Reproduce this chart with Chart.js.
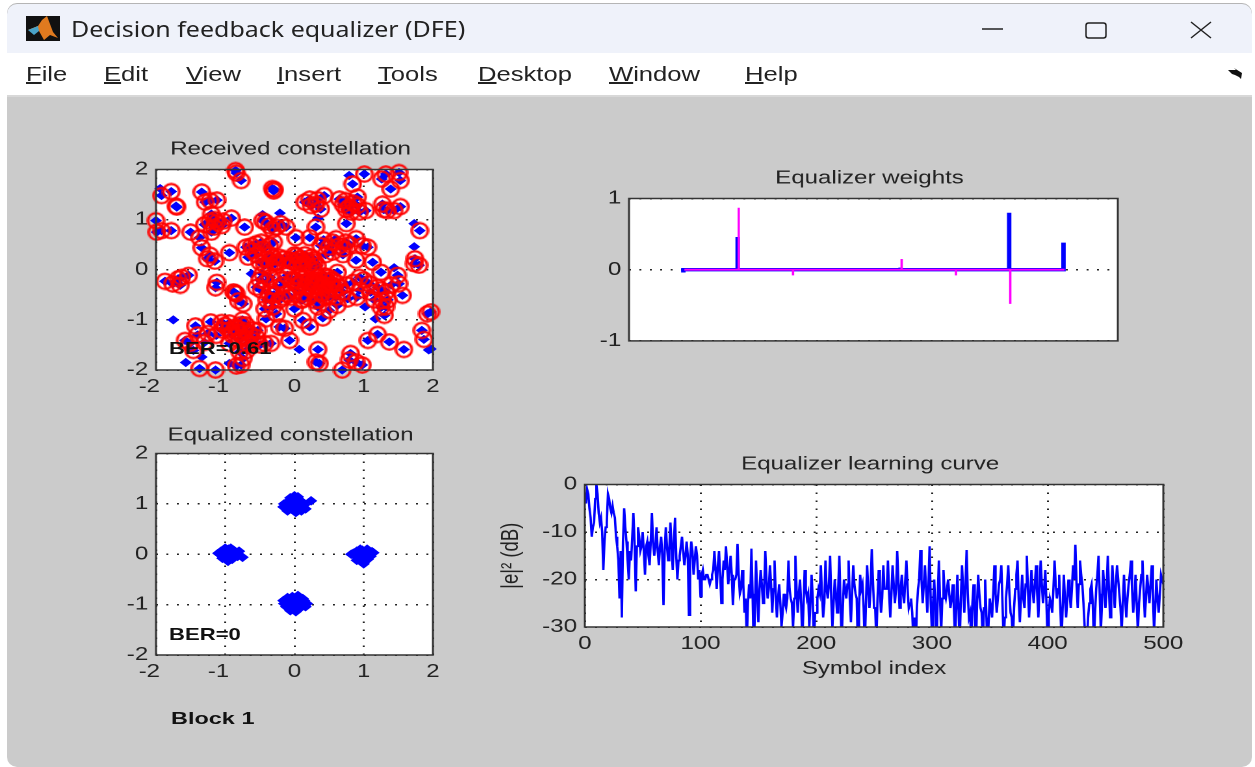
<!DOCTYPE html>
<html lang="en">
<head>
<meta charset="UTF-8">
<title>Decision feedback equalizer (DFE)</title>
<script src="https://cdn.jsdelivr.net/npm/chart.js"></script>
<style>
    html, body { margin: 0; padding: 0; width: 1255px; height: 767px; overflow: hidden; background: #fff; }
    #win { position: absolute; left: 0; top: 0; width: 1255px; height: 767px; filter: blur(0.55px); font-family: 'Liberation Sans', Arial, sans-serif; }
    #titlebar { position: absolute; left: 7px; top: 4px; width: 1245px; height: 49px; background: #eff2fa; border-radius: 10px 10px 0 0; box-shadow: 0 -1px 0 #b5b5b5; }
    #menubar { position: absolute; left: 7px; top: 53px; width: 1245px; height: 42px; background: #fff; border-bottom: 2px solid #d8d8d8; }
    #figure { position: absolute; left: 7px; top: 97px; width: 1245px; height: 670px; background: #cbcbcb; border-radius: 0 0 10px 10px; }
    #wintitle { position: absolute; left: 71px; top: 17px; font: 21px 'Noto Sans', sans-serif; color: #222; transform-origin: 0 0; transform: scaleX(1.19); white-space: nowrap; line-height: 24px; }
    .menu { position: absolute; top: 62px; font-size: 20px; line-height: 24px; color: #222; transform-origin: 0 0; transform: scaleX(1.28); white-space: nowrap; }
    .note { position: absolute; font-weight: bold; font-size: 17px; line-height: 20px; color: #111; transform-origin: 0 0; transform: scaleX(1.3); white-space: nowrap; z-index: 5; }
    canvas { position: absolute; transform-origin: 0 0; }
    svg { position: absolute; }
</style>
</head>
<body>
<div id="win">
    <div id="titlebar"></div>
    <div id="menubar"></div>
    <div id="figure"></div>
    <svg style="left:26px;top:16px" width="34" height="25" viewBox="0 0 34 25">
        <rect width="34" height="25" fill="#111"/>
        <path d="M2 14 L12 10 L16 4 L21 0 L27 16 L32 22 L24 19 L18 24 L13 15 Z" fill="#e07a1f"/>
        <path d="M2 14 L12 10 L13 15 L8 19 Z" fill="#4aa3c8"/>
    </svg>
    <div id="wintitle">Decision feedback equalizer (DFE)</div>
    <svg style="left:975px;top:14px" width="240" height="30" viewBox="0 0 240 30" fill="none" stroke="#222" stroke-width="1.5">
        <line x1="7" y1="15" x2="28" y2="15"/>
        <rect x="111" y="9" width="20" height="15" rx="2.5"/>
        <path d="M216 8 L236 24 M236 8 L216 24"/>
    </svg>
    <svg style="left:1227px;top:68px" width="16" height="12" viewBox="0 0 16 12"><path d="M1 2 L9 2 L7 0 L15 5 L14 11 L12 9 L8 7 L5 6 Z" fill="#111"/></svg>
    <div class="menu" style="left:26px"><u>F</u>ile</div>
    <div class="menu" style="left:104px"><u>E</u>dit</div>
    <div class="menu" style="left:186px"><u>V</u>iew</div>
    <div class="menu" style="left:277px"><u>I</u>nsert</div>
    <div class="menu" style="left:378px"><u>T</u>ools</div>
    <div class="menu" style="left:478px"><u>D</u>esktop</div>
    <div class="menu" style="left:609px"><u>W</u>indow</div>
    <div class="menu" style="left:745px"><u>H</u>elp</div>

    <canvas id="received"></canvas>
    <canvas id="equalized"></canvas>
    <canvas id="weights"></canvas>
    <canvas id="learning"></canvas>

    <div class="note" style="left:169px;top:339px">BER=0.61</div>
    <div class="note" style="left:169px;top:625px">BER=0</div>
    <div class="note" style="left:171px;top:709px;transform:scaleX(1.38)">Block 1</div>
</div>

<script>
    // Received constellation, symbols in error (circled)
    const errI = [-0.85,-0.84,-0.77,-0.32,-0.29,-0.3,-1.92,-1.78,-1.71,-1.7,-1.34,-1.29,-1.22,-1.12,-1.2,-2.0,-1.99,-1.92,-1.78,-1.5,-1.37,-1.2,-1.22,-1.12,-1.03,-0.91,-1.16,-0.72,-1.34,-1.22,-1.26,-1.15,-0.94,
        -0.46,-0.42,-0.26,-0.12,-0.36,-0.55,-0.7,-0.48,-0.36,-0.67,-0.6,-0.41,-0.31,-0.22,-0.43,-0.28,-0.46,
        0.02,0.22,-0.02,0.07,0.17,0.24,0.12,0.29,0.03,0.1,0.27,-0.07,-0.26,-0.36,
        0.22,0.24,0.38,0.43,0.31,0.65,0.74,0.79,0.91,0.91,0.94,1.03,0.84,1.01,1.26,1.32,1.51,1.53,1.39,1.27,1.53,1.34,1.44,1.29,0.75,0.31,1.81,
        0.6,0.38,0.5,0.65,0.74,0.89,0.98,1.06,0.89,1.13,1.74,1.73,1.8,
        0.62,0.94,1.25,1.49,1.51,1.56,0.94,1.08,1.2,1.32,1.27,1.32,1.3,0.77,
        -0.1,0.07,0.22,0.34,0.46,0.55,0.31,0.17,0.02,-0.12,-0.26,-0.41,-0.48,-0.36,-0.22,0.12,0.38,0.5,0.62,0.34,0.5,0,-0.43,-0.31,-0.26,-0.41,-0.14,-0.22,-0.07,0.12,0.22,0.41,
        0.41,0.28,0.44,0.2,-0.03,-0.17,-0.33,0.58,0.3,0.12,
        -1.43,-1.21,-1.01,-0.94,-0.85,-0.77,-0.72,-0.65,-1.13,-1.25,-0.74,-0.6,-0.67,-0.53,-0.43,-0.34,-1.58,-1.51,-1.46,-0.94,-0.79,-0.69,-1.37,-1.14,-0.84,-0.77,-0.74,-0.9,-0.82,
        0.34,0.31,0.36,0.69,0.81,0.79,0.89,0.98,1.06,1.2,1.37,1.58,1.84,1.87,1.92,1.97,
        -1.87,-1.76,-1.68,-1.63,-1.53,-1.65,-1.12,-1.14,-0.86,-0.84,-0.88,-0.74,-0.81,
        0,0.05,0.1,0.15,0.2,0.25,0.3,0.35,0.4,0.45,0.5,0.5,0.55,0.6,0.65,0.7,0.75,0.85,0.6,0.45,0.35,0.2,0.1,-0.05,-0.15,-0.2,-0.3,-0.4,-0.55,-0.5,-0.35,
        0,0.05,0.1,0.15,0.2,0.28,0.33,-0.1,-0.15,-0.25,-0.35,-0.5,-0.55,-0.62,-0.45,-0.3,0.42,0.55,0.7,0.8,0.55,0.45,0.7,
        -1.05,-0.95,-0.9,-0.8,-0.7,-0.6,-0.55,-0.8,-0.65,-0.5,-1.3,-1.4,-1.05,-0.75,
        0.7,0.75,0.85,0.82,0.15,0.33,-1.15,-1.05,-1.3,-0.32,-0.2,
        1.1,1.25,1.15,1.35,1.4,1.0,1.25,0.9];
    const errQ = [1.98,1.93,1.78,1.62,1.6,1.57,1.48,1.56,1.27,1.25,1.55,1.35,1.38,1.39,1.11,0.98,0.75,0.78,0.78,0.75,0.64,0.75,0.97,0.95,0.97,1.03,0.85,0.85,0.44,0.29,0.22,0.17,0.34,
        0.98,0.95,0.85,0.85,0.88,0.52,0.45,0.55,0.48,0.25,0.38,0.22,0.25,0.25,0.09,0.12,-0.08,
        0.64,0.64,0.15,0.22,0.19,0.25,0.12,0.15,0.28,0.05,0.02,0.2,0.16,0.08,
        1.41,1.28,1.21,1.48,1.31,1.41,1.38,1.25,1.45,1.28,1.15,1.18,1.71,1.91,1.81,1.91,1.94,1.78,1.61,1.31,1.26,1.18,1.18,1.2,0.92,0.85,0.78,
        0.62,0.48,0.45,0.48,0.55,0.62,0.48,0.45,0.19,0.15,0.22,0.12,0.09,
        -0.05,-0.15,-0.05,-0.11,-0.28,-0.51,-0.41,-0.28,-0.35,-0.44,-0.61,-0.74,-0.91,-0.58,
        -0.11,-0.15,-0.21,-0.15,-0.21,-0.31,-0.31,-0.35,-0.41,-0.48,-0.35,-0.25,-0.41,-0.48,-0.61,-0.48,-0.48,-0.54,-0.71,-0.74,-0.81,-0.78,-0.78,-0.74,-0.88,-0.98,-1.17,-1.14,-1.41,-1.01,-1.14,-0.96,
        -0.3,-0.25,-0.12,-0.24,-0.22,-0.55,-0.62,-0.38,-0.62,-0.6,
        -1.12,-1.04,-1.11,-1.06,-1.14,-1.09,-1.21,-1.27,-1.31,-1.27,-1.34,-1.41,-1.47,-1.21,-1.47,-1.47,-1.41,-1.47,-1.61,-1.47,-1.64,-1.61,-1.97,-2.0,-1.92,-1.9,-1.77,-1.25,-1.17,
        -1.59,-1.84,-1.87,-2.0,-1.67,-1.8,-1.84,-1.9,-1.41,-1.29,-1.44,-1.59,-1.21,-1.39,-0.88,-0.84,
        -0.23,-0.28,-0.18,-0.15,-0.11,-0.31,-0.25,-0.36,-0.46,-0.48,-0.44,-0.68,-0.62,
        -0.2,-0.3,-0.25,-0.15,-0.3,-0.4,-0.2,-0.25,-0.35,-0.3,-0.15,-0.4,-0.2,-0.25,-0.35,-0.45,-0.3,-0.25,-0.55,-0.55,-0.6,-0.55,-0.6,-0.55,-0.3,-0.2,-0.5,-0.6,-0.35,-0.2,-0.15,
        0.3,0.1,0.18,0.3,0.08,0.2,0.08,0.1,0.22,0.15,0.3,0.15,0.3,0.48,0.42,0.55,0.6,0.55,0.42,0.5,0.35,0.3,0.3,
        -1.2,-1.2,-1.3,-1.25,-1.1,-1.2,-1.35,-1.4,-1.5,-1.5,-1.45,-1.3,-1.05,-1.0,
        1.3,1.2,1.33,1.15,1.35,1.4,1.0,0.88,0.9,0.8,0.92,
        -0.45,-0.4,-0.6,-0.6,-0.3,-0.2,-0.75,-0.55];

    // Received constellation, symbols decided correctly (no circle)
    const okI = [-1.94,-0.21,-0.46,0.34,0.79,1.73,1.73,-1.75,1.17,1.02,0.07,-1.57,1.94,1.97,-0.62,1.44,-0.94,-1.34];
    const okQ = [1.62,1.13,1.1,1.03,1.88,0.92,0.46,-1.0,-0.98,-0.74,-1.59,-1.85,-1.6,-1.58,-0.08,0.04,-1.87,-1.74];

    // Equalized constellation
    const eqI = [0,-0.08,0.07,-0.15,0.14,-0.04,0.04,-0.1,0.1,0.16,-0.16,0,0.02,-0.06,0.08,0.12,-0.12,0.24,0.05,-0.02,
        -1.02,-0.95,-0.88,-1.08,-1.04,-0.9,-0.82,-0.94,-1.0,-0.85,-1.1,-0.96,-0.92,-1.06,-0.75,-0.8,-0.98,-0.88,-1.0,-0.93,
        0.82,0.9,0.98,1.05,1.12,0.94,1.02,0.88,1.1,0.97,0.92,1.06,0.85,1.0,1.08,0.95,0.9,1.04,0.98,1.14,
        -0.16,-0.1,-0.03,0.05,0.12,0.18,-0.12,0,0.08,-0.06,0.02,0.14,-0.1,-0.02,0.04,0.1,-0.15,0.16,-0.05,0.07];
    const eqQ = [1.16,1.06,1.08,1.0,0.98,0.9,0.93,0.86,0.86,0.9,0.94,1.02,0.83,1.12,1.05,1.03,0.96,1.06,1.14,0.97,
        0.02,0.1,0.08,0.0,-0.08,-0.1,-0.04,0.04,0.12,0.02,0.02,-0.14,0.12,0.06,-0.06,0.06,-0.05,-0.02,0.05,-0.04,
        0.0,0.06,0.08,0.1,0.05,-0.08,-0.14,-0.04,-0.04,0.02,0.04,-0.1,0.02,-0.19,-0.02,0.1,-0.12,0.02,-0.06,0.03,
        -0.92,-0.86,-0.84,-0.82,-0.88,-0.98,-1.04,-1.02,-1.05,-1.12,-1.14,-0.92,-0.95,-0.94,-0.96,-1.0,-0.98,-1.04,-1.02,-1.08];

    // Equalizer weights per tap
    const tapIndex = [1, 2, 3, 4, 5, 6, 7, 8];
    const weightRe = [-0.04, 0.46, 0, 0, 0.03, 0, 0.8, 0.38];
    const weightIm = [0, 0.87, -0.08, 0, 0.15, -0.08, -0.48, 0];

    // Learning curve |e|^2 in dB, even symbols then odd symbols
    const errorDbEven = [
        -2,-1,-5,-11,-8,0,-6,-7,-18,-9,
        -2,-5,-4.5,-7,-13,-24,-28,-5,-12,-20,
        -16,-6,-22.5,-9,-14,-10,-19,-12,-17,-6,
        -15,-9,-17,-11,-25.4,-9,-16,-8,-18,-7,
        -20,-15,-11,-17,-12,-27.5,-12,-19,-13,-20,
        -23.6,-18,-20,-19,-21,-19,-14,-22,-14,-25,
        -16,-13,-21,-15,-25.4,-20,-12.5,-23,-18,-27,
        -33,-21,-13.5,-35,-16,-29,-18,-25,-14,-24,
        -17,-27,-16,-28,-21,-30,-23,-26,-16,-24,
        -30,-15,-27,-20,-33,-18,-24,-30,-19,-34,
        -27,-22,-17,-28,-16,-24,-15,-30,-20,-27,
        -15,-33,-20,-24,-16,-29,-17,-23,-34,-19,
        -21,-34,-17,-26,-13.6,-26,-33,-18,-27,-17,
        -22,-16,-28,-17,-25,-14,-26,-19,-25,-16,
        -26,-24,-33,-35,-22,-13.8,-25,-17,-27,-13,
        -31,-20,-34,-16,-31,-18,-24,-20,-26,-21,
        -33,-19,-34,-17,-27,-13.8,-28,-33,-21,-35,
        -19,-26,-33,-20,-35,-24,-28,-17,-27,-21,
        -17,-33,-24,-17,-27,-33,-22,-16,-29,-19,
        -26,-15,-28,-18,-25,-17,-28,-16,-25,-18,
        -33,-24,-27,-16,-24,-19,-33,-19,-28,-20,
        -26,-17,-12.7,-26,-16,-21,-30,-33,-25,-21,
        -33,-22,-15,-31,-18,-26,-15,-28,-17,-26,
        -17,-23,-31,-19,-28,-21,-16,-27,-19,-31,
        -22,-16,-28,-19,-25,-17,-31,-20,-27,-19,
        -21];
    const errorDbOdd = [
        -4,-2,-7,-9,-3,-2,-8,-10,-12,-8,
        -3,-6,-6,-11,-16,-14,-12,-9,-16,-14,
        -11,-12,-13,-11,-13,-14,-13,-15,-12,-12,
        -13,-14,-13,-15,-14,-13,-14,-13,-12,-15,
        -16,-13,-14,-15,-15,-16,-14,-16,-15,-18,
        -19,-20,-19,-20,-20,-18,-18,-17,-19,-20,
        -18,-17,-18,-19,-20,-19,-19,-22,-21,-24,
        -25,-24,-23,-27,-23,-22,-21,-22,-20,-22,
        -21,-22,-23,-24,-25,-27,-25,-24,-22,-25,
        -24,-22,-23,-25,-26,-22,-23,-25,-24,-27,
        -24,-23,-23,-25,-22,-21,-24,-25,-23,-22,
        -25,-26,-22,-21,-24,-23,-21,-24,-26,-22,
        -26,-25,-22,-22,-20,-26,-24,-22,-24,-22,
        -22,-23,-23,-21,-22,-20,-22,-23,-20,-22,
        -25,-27,-28,-26,-20,-20,-21,-22,-21,-25,
        -25,-26,-24,-24,-24,-23,-22,-23,-24,-26,
        -26,-26,-24,-22,-21,-23,-27,-25,-27,-25,
        -23,-27,-26,-27,-29,-26,-23,-23,-24,-20,
        -25,-28,-21,-23,-28,-26,-19,-24,-24,-24,
        -21,-22,-23,-22,-21,-23,-22,-21,-22,-25,
        -27,-25,-22,-21,-22,-26,-26,-24,-24,-23,
        -22,-20,-21,-21,-19,-25,-30,-28,-22,-25,
        -27,-19,-23,-25,-22,-22,-22,-23,-22,-21,
        -20,-26,-25,-24,-24,-19,-22,-24,-25,-25,
        -19,-22,-24,-22,-21,-23,-26,-24,-23,-20];

    const STRETCH = 1.3;       // the whole figure is wider than it is tall
    const FONT_SIZE = 18.5;
    const TITLE_GAP = 11;
    const INK = '#222';

    // white axes background and frame; titles sit a little left of the plot centre
    const framePlugin = {
        id: 'frame',
        afterLayout(chart, args, opts) {
            const t = chart.titleBlock;
            t.left -= 3;
            t.right -= 3;
            t.top += opts.titleDrop || 0;
        },
        beforeDraw(chart) {
            const a = chart.chartArea, c = chart.ctx;
            c.save();
            c.fillStyle = '#fff';
            c.fillRect(a.left, a.top, a.right - a.left, a.bottom - a.top);
            c.restore();
        },
        afterDatasetsDraw(chart) {
            const a = chart.chartArea, c = chart.ctx;
            c.save();
            c.strokeStyle = '#333';
            c.lineWidth = 1.5;
            c.strokeRect(a.left, a.top, a.right - a.left, a.bottom - a.top);
            c.restore();
        }
    };

    function axis(min, max, step, fixedSize, extra) {
        return Object.assign({
            type: 'linear', min: min, max: max,
            ticks: { stepSize: step, padding: 6, color: INK, font: { size: FONT_SIZE, family: "'Liberation Sans'" }, maxRotation: 0, autoSkip: false },
            grid: { color: '#222', lineWidth: 1.5, drawTicks: false },
            border: { display: false, dash: [1.5, 6.5] },
            afterFit(scale) {
                if (scale.isHorizontal()) scale.height = fixedSize; else scale.width = fixedSize;
            }
        }, extra || {});
    }

    // place a chart so that its plot area falls on the given rectangle of the window
    function makeChart(id, rect, title, xAxis, yAxis, xSize, ySize, datasets, titleDrop) {
        const canvas = document.getElementById(id);
        const plotW = (rect.right - rect.left) / STRETCH;
        const plotH = rect.bottom - rect.top;
        const titleH = FONT_SIZE + TITLE_GAP;
        const padRight = 30;
        canvas.width = ySize + plotW + padRight;
        canvas.height = titleH + plotH + xSize;
        canvas.style.left = (rect.left - ySize * STRETCH) + 'px';
        canvas.style.top = (rect.top - titleH) + 'px';
        canvas.style.transform = 'scaleX(' + STRETCH + ')';
        return new Chart(canvas, {
            type: 'scatter',
            data: { datasets: datasets },
            options: {
                responsive: false,
                animation: false,
                devicePixelRatio: 2,
                layout: { padding: { left: 0, top: 0, bottom: 0, right: padRight } },
                plugins: {
                    legend: { display: false },
                    tooltip: { enabled: false },
                    frame: { titleDrop: titleDrop },
                    title: { display: true, fullSize: false, text: title, color: INK, padding: { top: 0, bottom: TITLE_GAP },
                             font: { size: FONT_SIZE, weight: 'normal', family: "'Liberation Sans'", lineHeight: 1 } }
                },
                scales: { x: xAxis, y: yAxis }
            },
            plugins: [framePlugin]
        });
    }

    function toPoints(xs, ys) {
        return xs.map((v, i) => ({ x: v, y: ys[i] }));
    }

    // each tap is drawn as a stem going out from the zero line and back
    function stems(values, shift) {
        const pts = [];
        tapIndex.forEach((t, i) => {
            pts.push({ x: t + shift, y: 0 }, { x: t + shift, y: values[i] }, { x: t + shift, y: 0 });
        });
        return pts;
    }

    const diamonds = (data, r) => ({ data: data, pointStyle: 'rectRot', pointRadius: r, backgroundColor: '#0000ff', borderWidth: 0, showLine: false, clip: false });

    // the error ring is narrowed so it stays nearly round once the canvas is stretched
    const ring = document.createElement('canvas');
    ring.width = 15;
    ring.height = 18;
    const ringCtx = ring.getContext('2d');
    ringCtx.strokeStyle = '#ff0000';
    ringCtx.lineWidth = 2.1;
    ringCtx.beginPath();
    ringCtx.ellipse(7.5, 9, 6.2, 7.6, 0, 0, Math.PI * 2);
    ringCtx.stroke();

    // the minus sign pulls the printed number off its grid line in the reference
    const constellationX = () => {
        const a = axis(-2, 2, 1, 30);
        a.ticks.callback = v => (v < 0 ? v + '  ' : String(v));
        return a;
    };

    makeChart('received', { left: 156, right: 434, top: 169, bottom: 370 }, 'Received constellation',
        constellationX(), axis(-2, 2, 1, 40), 30, 40, [
            { data: toPoints(errI, errQ), pointStyle: ring, pointRadius: 7, showLine: false, clip: false },
            diamonds(toPoints(errI, errQ).concat(toPoints(okI, okQ)), 4.6)
        ]);

    makeChart('equalized', { left: 156, right: 434, top: 453, bottom: 655 }, 'Equalized constellation',
        constellationX(), axis(-2, 2, 1, 40), 30, 40, [
            diamonds(toPoints(eqI, eqQ), 4.8)
        ], 2);

    makeChart('weights', { left: 629, right: 1119, top: 198, bottom: 342 }, 'Equalizer weights',
        axis(0, 9, 1, 16, { ticks: { display: false }, grid: { display: false } }), axis(-1, 1, 1, 40), 16, 40, [
            { data: stems(weightIm, 0.02), showLine: true, pointRadius: 0, borderColor: '#ff00ff', borderWidth: 1.8 },
            { data: stems(weightRe, 0), showLine: true, pointRadius: 0, borderColor: '#0000ff', borderWidth: 3.4 }
        ]);

    const errorDb = [];
    errorDbEven.forEach((v, i) => {
        errorDb.push(v);
        if (i < errorDbOdd.length) errorDb.push(errorDbOdd[i]);
    });
    const symbolIndex = errorDb.map((v, i) => i);
    makeChart('learning', { left: 585, right: 1164, top: 484, bottom: 627 }, 'Equalizer learning curve',
        axis(0, 500, 100, 51, { title: { display: true, text: 'Symbol index', color: INK, padding: { top: 3, bottom: 0 }, font: { size: FONT_SIZE, family: "'Liberation Sans'", lineHeight: 1 } } }),
        axis(-30, 0, 10, 66, { title: { display: true, text: '|e|² (dB)', color: INK, padding: { top: 0, bottom: 0 }, font: { size: FONT_SIZE, family: "'Liberation Sans'", lineHeight: 1 } } }),
        51, 66, [
            { data: toPoints(symbolIndex, errorDb), showLine: true, pointRadius: 0, borderColor: '#0000ff', borderWidth: 1.8 }
        ]);
</script>
</body>
</html>
